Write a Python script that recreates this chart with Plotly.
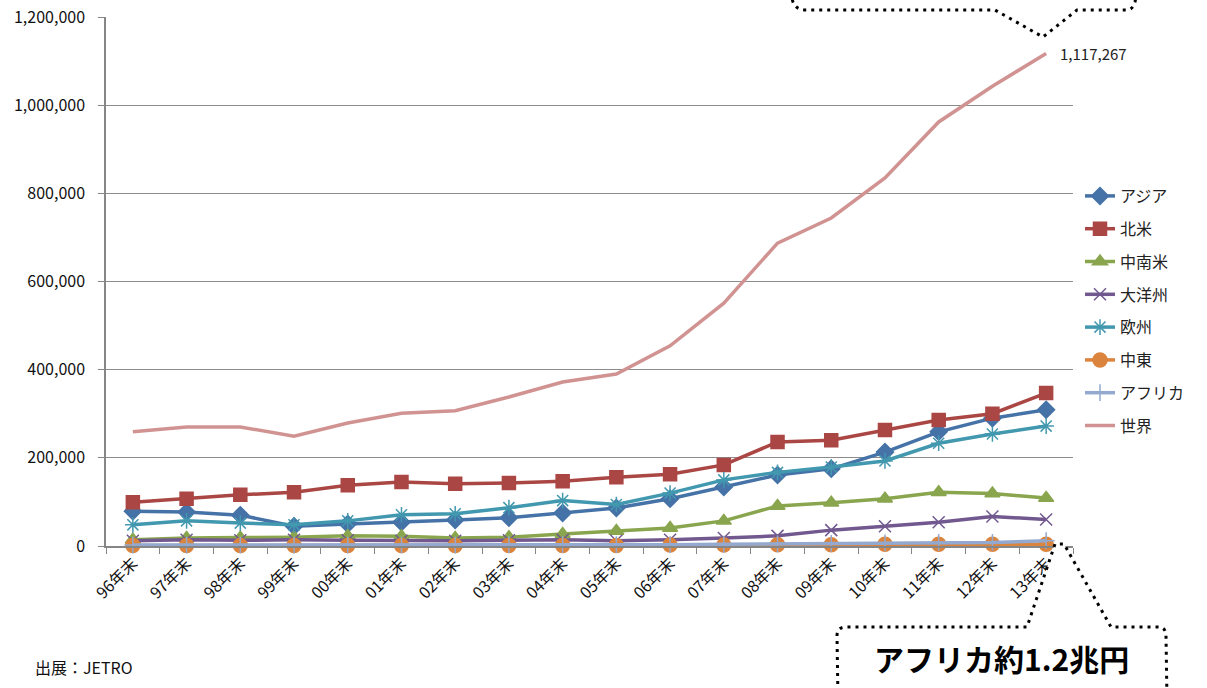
import plotly.graph_objects as go

categories = ["96年末", "97年末", "98年末", "99年末", "00年末", "01年末", "02年末", "03年末", "04年末",
              "05年末", "06年末", "07年末", "08年末", "09年末", "10年末", "11年末", "12年末", "13年末"]

asia = [79000, 77000, 70000, 45000, 50000, 54000, 59000, 64000, 75000, 86000, 107000, 134000,
        161000, 175000, 213000, 259000, 290000, 309000]
north_america = [99000, 107000, 116000, 122000, 138000, 145000, 141000, 143000, 147000, 156000,
                 163000, 184000, 236000, 240000, 263000, 286000, 300000, 347000]
latin_america = [14000, 18000, 19000, 20000, 23000, 22000, 18000, 20000, 27000, 34000, 41000,
                 57000, 91000, 98000, 107000, 122000, 119000, 109000]
oceania = [12000, 14000, 13000, 14000, 13000, 12000, 12000, 13000, 14000, 12000, 14000, 18000,
           23000, 36000, 45000, 54000, 67000, 60000]
europe = [48000, 57000, 52000, 48000, 57000, 71000, 73000, 87000, 103000, 94000, 120000, 150000,
          167000, 179000, 193000, 233000, 254000, 272000]
middle_east = [1000, 1000, 1000, 1000, 1000, 1000, 1000, 1000, 1000, 1000, 2000, 2000, 3000,
               3000, 4000, 4000, 4000, 4000]
africa = [2000, 2000, 2000, 2000, 2000, 2000, 2000, 3000, 3000, 3000, 3000, 4000, 5000, 6000,
          7000, 8000, 8000, 12000]
world = [259000, 270000, 270000, 249000, 279000, 301000, 307000, 338000, 372000, 390000, 454000,
         551000, 687000, 744000, 835000, 962000, 1043000, 1117267]

series = [
    ("アジア", asia, "#4572A7", "diamond", 13),
    ("北米", north_america, "#AA4643", "square", 13),
    ("中南米", latin_america, "#89A54E", "triangle-up", 13),
    ("大洋州", oceania, "#71588F", "x-thin-open", 12),
    ("欧州", europe, "#4198AF", "asterisk-open", 13),
    ("中東", middle_east, "#DB843D", "circle", 14),
    ("アフリカ", africa, "#93A9CF", "cross-thin-open", 12),
    ("世界", world, "#D19392", None, 0),
]

FONT = "'Noto Sans CJK JP', sans-serif"

fig = go.Figure()
for name, vals, color, sym, size in series:
    kw = dict(mode="lines")
    if sym:
        kw = dict(mode="lines+markers",
                  marker=dict(symbol=sym, size=size, color=color,
                              line=dict(color=color, width=1.5)))
    fig.add_trace(go.Scatter(x=categories, y=vals, name=name, legendgroup=name, cliponaxis=False,
                             line=dict(color=color, width=3.5), **kw))

# plot area in pixels
L, R, T, B = 106, 1073, 17, 546
W, H = 1207, 688


def px(x):
    return (x - L) / (R - L)


def py(y):
    return (B - y) / (B - T)


def path(points):
    s = ""
    for cmd, pts in points:
        s += cmd + " " + " ".join(f"{px(a):.5f},{py(b):.5f}" for a, b in pts) + " "
    return s + "Z"


top_callout = path([
    ("M", [(790, -8)]), ("L", [(793, 2)]), ("Q", [(796, 10), (806, 10)]),
    ("L", [(995, 10)]), ("L", [(1043, 37)]), ("L", [(1077, 10)]),
    ("L", [(1126, 10)]), ("Q", [(1133, 10), (1135, 2)]), ("L", [(1137, -8)]),
])
bottom_callout = path([
    ("M", [(838, 700)]), ("L", [(837, 636)]), ("Q", [(837, 627), (846, 627)]),
    ("L", [(1027, 627)]), ("L", [(1055, 544)]), ("L", [(1064, 544)]),
    ("L", [(1111, 627)]), ("L", [(1158, 627)]), ("Q", [(1166, 627), (1166, 636)]),
    ("L", [(1167, 700)]),
])

for p in (top_callout, bottom_callout):
    fig.add_shape(type="path", path=p, xref="paper", yref="paper",
                  fillcolor="white", line=dict(color="black", width=3, dash="3px,5px"),
                  layer="above")

fig.add_annotation(x=categories[-1], y=world[-1], text=f"{world[-1]:,}", showarrow=False,
                   xanchor="left", yanchor="middle", xshift=12,
                   font=dict(size=15, color="#222", family=FONT))
fig.add_annotation(x=px(1001), y=py(658), xref="paper", yref="paper", text="<b>アフリカ約1.2兆円</b>",
                   showarrow=False, xanchor="center", yanchor="middle",
                   font=dict(size=30, color="black", family=FONT))
fig.add_annotation(x=px(33), y=py(667), xref="paper", yref="paper", text="出展：JETRO",
                   showarrow=False, xanchor="left", yanchor="middle",
                   font=dict(size=16, color="#111", family=FONT))

fig.update_layout(
    width=W, height=H,
    margin=dict(l=L, r=W - R, t=T, b=H - B, autoexpand=False),
    paper_bgcolor="white", plot_bgcolor="white",
    font=dict(family=FONT, size=16, color="#222"),
    showlegend=True,
    legend=dict(x=px(1080), y=py(179), xanchor="left", yanchor="top",
                font=dict(size=16, family=FONT), tracegroupgap=9,
                bgcolor="rgba(0,0,0,0)"),
    xaxis=dict(type="category", range=[-0.5, len(categories) - 0.5], showgrid=False,
               showline=True, linecolor="#868686", linewidth=1.5,
               ticks="outside", tickson="boundaries", ticklen=6, tickcolor="#868686",
               tickangle=-45, tickfont=dict(size=16, family=FONT, color="#111")),
    yaxis=dict(range=[0, 1200000], dtick=200000, tickformat=",", showgrid=True,
               gridcolor="#8c8c8c", gridwidth=1, zeroline=False, showline=True,
               linecolor="#868686", linewidth=1.5, ticks="outside", ticklen=6,
               ticklabelstandoff=10,
               tickcolor="#868686", tickfont=dict(size=16, family=FONT, color="#111")),
)

fig.write_html("out.html")
